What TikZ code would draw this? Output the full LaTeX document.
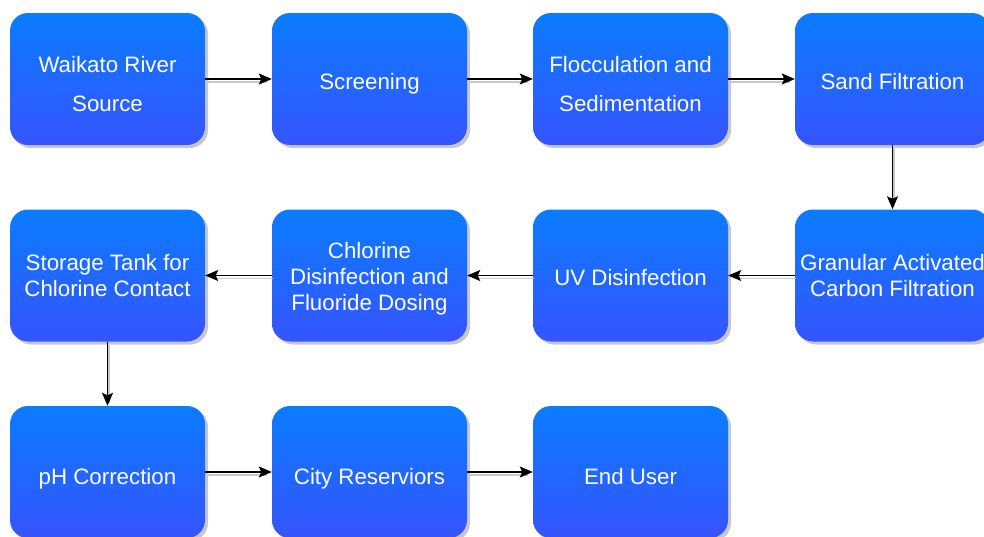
\documentclass[tikz,border=0pt]{standalone}
\usepackage{fontspec}
\setmainfont{Liberation Sans}
\usetikzlibrary{arrows.meta,shadows}
\definecolor{boxtop}{HTML}{0A7CFF}
\definecolor{boxbot}{HTML}{3654FF}
\definecolor{shade}{HTML}{C8C8C8}
\tikzset{
  box/.style={rounded corners=18pt, minimum width=195pt, minimum height=132pt,
    inner sep=2pt, align=center, text=white, top color=boxtop, bottom color=boxbot,
    font=\fontsize{22.3}{26}\selectfont,
    drop shadow={shadow xshift=3pt, shadow yshift=-3pt, fill=black, opacity=0.22}},
  single/.style={text height=21pt, text depth=1pt},
  lastrow/.style={text height=26pt, text depth=1pt},
  wide/.style={font=\fontsize{22.3}{39}\selectfont},
  flow/.style={line width=1.4pt, -{Stealth[length=13pt,width=11pt,inset=2.5pt]},
    preaction={draw=shade, line width=1.3pt, -, shorten >=6pt, transform canvas={shift={(1.5pt,-3pt)}}}}
}
\begin{document}
\begin{tikzpicture}[x=1pt,y=1pt]
\useasboundingbox (0,0) rectangle (984,-536);
\node[box,wide] (n1) at (107.5,-79) {\rule{0pt}{26.5pt}Waikato River\\Source};
\node[box,single] (n2) at (369.5,-79) {Screening};
\node[box,wide] (n3) at (630.5,-79) {\rule{0pt}{26.5pt}Flocculation and\\Sedimentation};
\node[box,single] (n4) at (892.5,-79) {Sand Filtration};
\node[box] (n5) at (892.5,-275.5) {Granular Activated\\Carbon Filtration};
\node[box,single] (n6) at (630.5,-275.5) {UV Disinfection};
\node[box] (n7) at (369.5,-275.5) {\rule{0pt}{22.5pt}Chlorine\\Disinfection and\\Fluoride Dosing};
\node[box] (n8) at (107.5,-275.5) {Storage Tank for\\Chlorine Contact};
\node[box,lastrow] (n9) at (107.5,-472) {pH Correction};
\node[box,lastrow] (n10) at (369.5,-472) {City Reserviors};
\node[box,lastrow] (n11) at (630.5,-472) {End User};
\draw[flow] (n1) -- (n2);
\draw[flow] (n2) -- (n3);
\draw[flow] (n3) -- (n4);
\draw[flow] (n4) -- (n5);
\draw[flow] (n5) -- (n6);
\draw[flow] (n6) -- (n7);
\draw[flow] (n7) -- (n8);
\draw[flow] (n8) -- (n9);
\draw[flow] (n9) -- (n10);
\draw[flow] (n10) -- (n11);
\end{tikzpicture}
\end{document}
